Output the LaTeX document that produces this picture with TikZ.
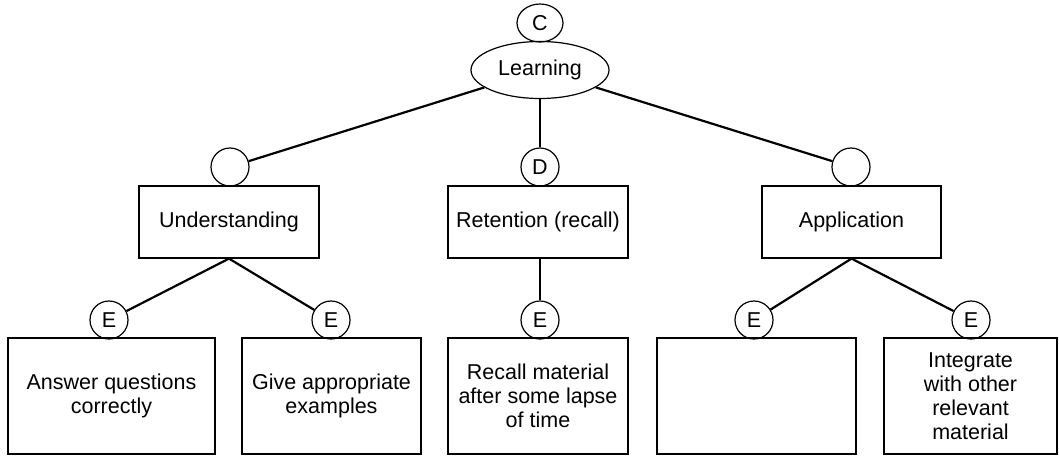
\documentclass[tikz,border=0pt]{standalone}
\usepackage{fontspec}
\setmainfont{Liberation Sans}
\usetikzlibrary{shapes.geometric}
\begin{document}
\begin{tikzpicture}[x=1pt,y=-1pt,
  every node/.style={font=\fontsize{21.5}{24}\selectfont, inner sep=0pt},
  box/.style={draw, line width=1.2pt, align=center},
  midbox/.style={box, minimum height=72pt},
  leafbox/.style={box, minimum height=116pt},
  tag/.style={draw, circle, line width=1.2pt, minimum size=38pt},
  oval/.style={draw, ellipse, line width=1.2pt},
  link/.style={line width=2.2pt}]
\useasboundingbox (0,0) rectangle (1059,455);

% root
\node[oval, minimum width=46pt, minimum height=38pt] (c) at (540,23) {C};
\node[oval, minimum width=138pt, minimum height=57pt] (learn) at (540,70) {Learning};

% second level
\node[tag] (t1) at (230,167) {};
\node[tag] (t2) at (540,167) {D};
\node[tag] (t3) at (851,167) {};
\node[midbox, minimum width=180pt] (und) at (229,222) {Understanding};
\node[midbox, minimum width=180pt] (ret) at (538,222) {Retention (recall)};
\node[midbox, minimum width=179pt] (app) at (851.5,222) {Application};

% third level
\node[tag] (e1) at (109,320) {E};
\node[tag] (e2) at (331,320) {E};
\node[tag] (e3) at (540,320) {E};
\node[tag] (e4) at (754,320) {E};
\node[tag] (e5) at (971,320) {E};
\node[leafbox, minimum width=207pt] (l1) at (111.5,396) {Answer questions\\correctly};
\node[leafbox, minimum width=179pt] (l2) at (331.5,396) {Give appropriate\\examples};
\node[leafbox, minimum width=180pt] (l3) at (538,396) {Recall material\\after some lapse\\of time};
\node[leafbox, minimum width=199pt] (l4) at (756.5,396) {};
\node[leafbox, minimum width=173pt] (l5) at (970.5,396) {Integrate\\with other\\relevant\\material};

% connectors
\draw[link] (learn) -- (t1);
\draw[link] (learn) -- (t2);
\draw[link] (learn) -- (t3);
\draw[link] (und.south) -- (e1);
\draw[link] (und.south) -- (e2);
\draw[link] (e3 |- ret.south) -- (e3);
\draw[link] (app.south) -- (e4);
\draw[link] (app.south) -- (e5);
\end{tikzpicture}
\end{document}
